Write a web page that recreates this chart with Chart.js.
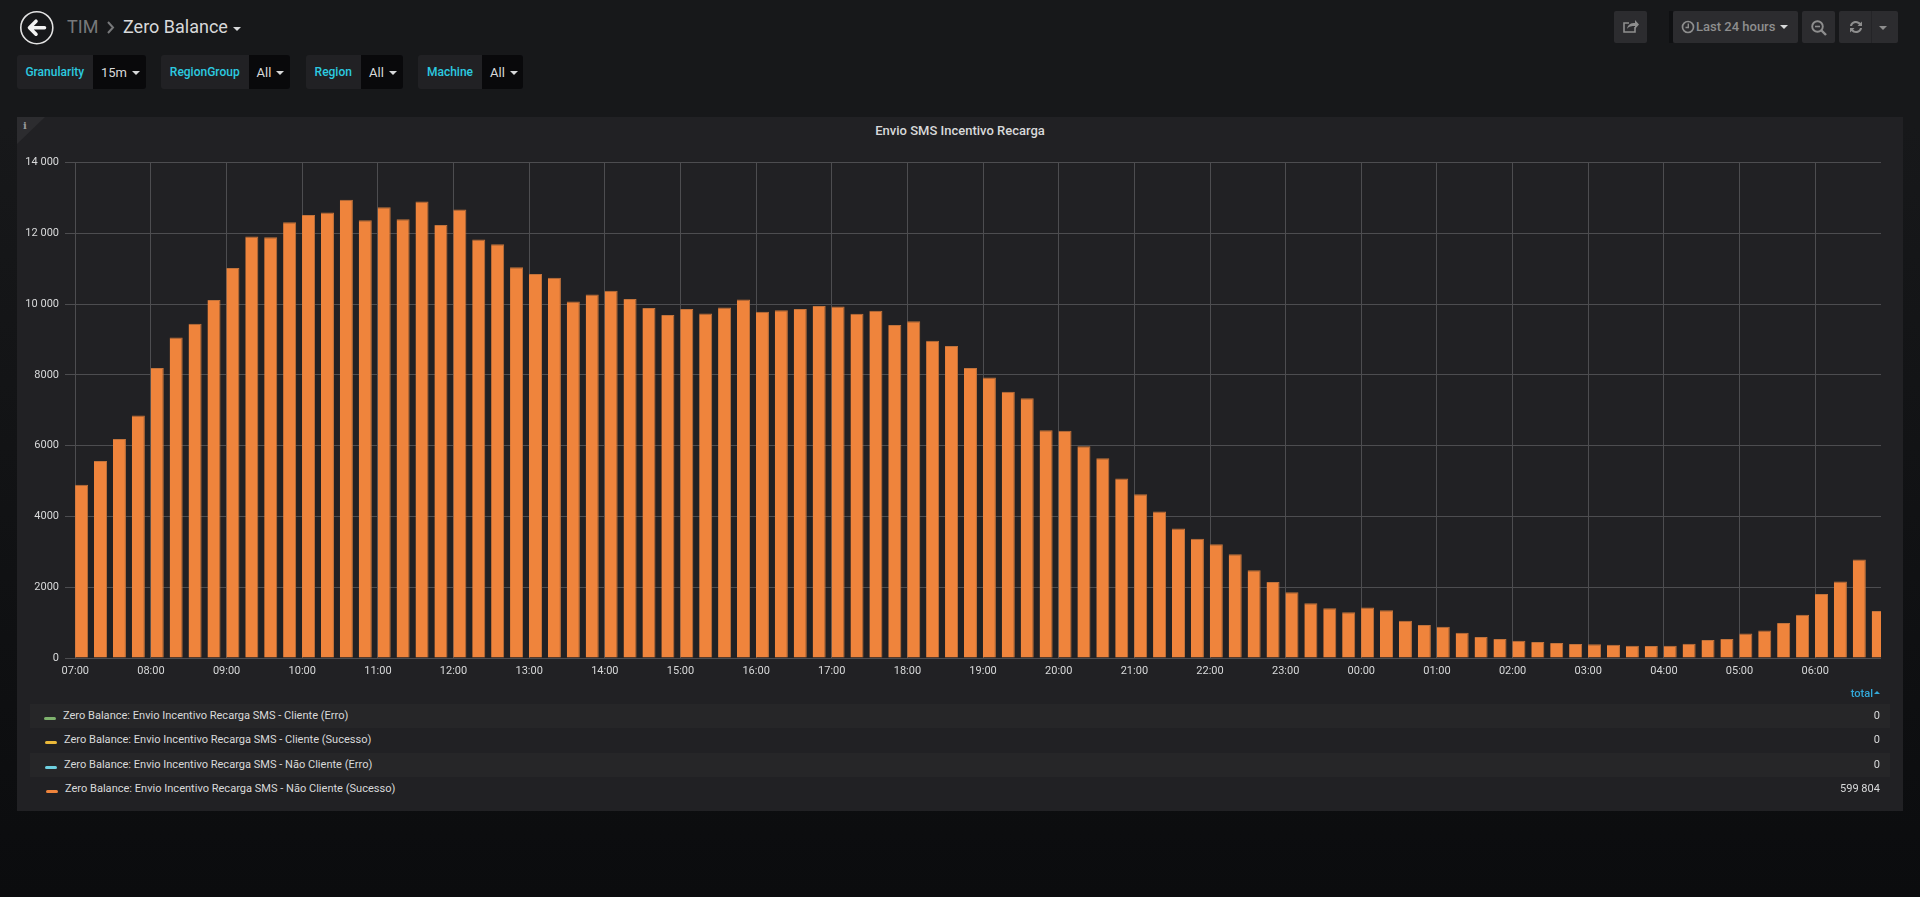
<!DOCTYPE html>
<html lang="pt">
<head>
<meta charset="utf-8">
<title>Zero Balance</title>
<script src="https://cdn.jsdelivr.net/npm/chart.js@4"></script>
<style>
html,body{margin:0;padding:0;width:1920px;height:897px;overflow:hidden;}
body{background:linear-gradient(180deg,#17181a 0,#17181a 14%,#0b0c0e 100%);font-family:Roboto,sans-serif;color:#d8d9da;position:relative;}
.abs{position:absolute;white-space:nowrap;}
.panel{position:absolute;left:17px;top:117px;width:1886px;height:694px;background:#212124;}
.corner{position:absolute;left:17px;top:117px;width:0;height:0;border-top:27px solid #2c2c2f;border-right:28px solid transparent;}
.title{left:17px;width:1886px;top:123px;text-align:center;font-size:13px;font-weight:500;color:#d8d9da;line-height:16px;}
.seg{position:absolute;top:55px;height:34px;box-sizing:border-box;line-height:34px;font-size:12px;}
.lab{background:#212124;color:#2ccbe0;font-weight:500;border-radius:3px 0 0 3px;text-align:center;}
.val{background:#09090b;color:#d8d9da;font-size:13px;border-radius:0 3px 3px 0;padding-left:8px;line-height:35px;}
.val::after,.caret::after{content:"";display:inline-block;margin-left:5px;vertical-align:2px;border-left:4px solid transparent;border-right:4px solid transparent;border-top:4px solid #d8d9da;}
.btn{position:absolute;top:11px;height:32px;background:#2c2c2f;border-radius:2px;color:#8e8e8e;font-size:13px;font-weight:500;line-height:32px;}
.row{position:absolute;left:30px;width:1860px;}
.row.alt{background:#262628;}
.swatch{position:absolute;width:12px;height:3px;border-radius:2px;}
.ltext{position:absolute;font-size:11.05px;color:#d8d9da;line-height:16px;white-space:nowrap;}
.ltot{position:absolute;right:40px;font-size:11.05px;color:#d8d9da;line-height:16px;}
canvas{position:absolute;left:17px;top:117px;}
</style>
</head>
<body>
<svg class="abs" style="left:19px;top:9px" width="36" height="38" viewBox="0 0 36 38">
  <circle cx="17.8" cy="18.7" r="16" fill="none" stroke="#e3e3e3" stroke-width="1.6"/>
  <path d="M10.5 18.7 L17 12.2 M10.5 18.7 L17 25.2 M11 18.7 H25.500" fill="none" stroke="#f2f2f2" stroke-width="3.6" stroke-linecap="round"/>
</svg>
<div class="abs" style="left:67px;top:16px;font-size:18px;color:#77787a;line-height:22px;">TIM</div>
<svg class="abs" style="left:106px;top:20px" width="10" height="16"><path d="M2 2 L7 7.5 L2 13" fill="none" stroke="#77787a" stroke-width="2"/></svg>
<div class="abs caret" style="left:123px;top:16px;font-size:18px;color:#d8d9da;line-height:22px;">Zero Balance</div>

<div class="seg lab" style="left:16.5px;width:76.5px;">Granularity</div><div class="seg val" style="left:93px;width:52.5px;">15m</div>
<div class="seg lab" style="left:161px;width:87.5px;">RegionGroup</div><div class="seg val" style="left:248.5px;width:41px;">All</div>
<div class="seg lab" style="left:305.5px;width:55.5px;">Region</div><div class="seg val" style="left:361px;width:41.500px;">All</div>
<div class="seg lab" style="left:418px;width:64px;">Machine</div><div class="seg val" style="left:482px;width:41px;">All</div>

<div class="btn" style="left:1614px;width:33px;">
  <svg style="position:absolute;left:8px;top:7px" width="18" height="18" viewBox="0 0 18 18"><path d="M13 9v5H2V5h5" fill="none" stroke="#8e8e8e" stroke-width="1.6"/><path d="M5 11c1-5 4-6 8-6V2l4 4.5L13 11V8c-3 0-6 0-8 3z" fill="#8e8e8e"/></svg>
</div>
<div class="abs" style="left:1669px;top:11px;width:4px;height:32px;background:#0f1012;"></div>
<div class="btn" style="left:1673px;width:125px;">
  <svg style="position:absolute;left:8px;top:9px" width="14" height="14" viewBox="0 0 14 14"><circle cx="7" cy="7" r="5.5" fill="none" stroke="#8e8e8e" stroke-width="1.7"/><path d="M7.3 3.5V7.5H4.5" fill="none" stroke="#8e8e8e" stroke-width="1.4"/></svg>
  <span class="caret" style="position:absolute;left:23px;top:0;">Last 24 hours</span>
</div>
<div class="btn" style="left:1802px;width:33px;">
  <svg style="position:absolute;left:8px;top:8px" width="18" height="18" viewBox="0 0 18 18"><circle cx="7.5" cy="7.5" r="5.3" fill="none" stroke="#8e8e8e" stroke-width="1.9"/><path d="M5 7.5h5" stroke="#8e8e8e" stroke-width="1.6"/><path d="M11.5 11.5L16 16" stroke="#8e8e8e" stroke-width="2.4"/></svg>
</div>
<div class="btn" style="left:1839px;width:59px;">
  <svg style="position:absolute;left:9px;top:8px" width="16" height="16" viewBox="0 0 16 16"><path d="M2 7C2.5 3.5 5 2 8 2c2 0 3.500 1 4.500 2L14 2.500V7H9.500l1.500-1.500C10 4.500 9 4 8 4 6 4 4.500 5 4 7z M14 9c-.5 3.500-3 5-6 5-2 0-3.500-1-4.500-2L2 13.500V9h4.500L5 10.500C6 11.500 7 12 8 12c2 0 3.500-1 4-3z" fill="#8e8e8e"/></svg>
  <div style="position:absolute;left:32px;top:0;width:1px;height:32px;background:#242427;"></div>
  <span style="position:absolute;left:40px;top:15px;border-left:4.500px solid transparent;border-right:4.500px solid transparent;border-top:4.500px solid #8e8e8e;"></span>
</div>

<div class="panel"></div>
<div class="corner"></div>
<div class="abs" style="left:23px;top:119px;font:bold 10px 'DejaVu Serif',serif;color:#9a9a9a;line-height:14px;">i</div>
<div class="abs title">Envio SMS Incentivo Recarga</div>
<canvas id="chart" width="1886" height="570"></canvas>

<div class="abs" style="right:40px;top:686px;font-size:11.05px;font-weight:500;color:#33a9d9;line-height:16px;">total<span style="display:inline-block;margin-left:1px;vertical-align:3px;border-left:3.500px solid transparent;border-right:3.500px solid transparent;border-bottom:3.500px solid #33a9d9;"></span></div>
<div id="legend"></div>

<script>
// --- Data ---
const hourLabels = ["07:00","08:00","09:00","10:00","11:00","12:00","13:00","14:00","15:00","16:00","17:00","18:00","19:00","20:00","21:00","22:00","23:00","00:00","01:00","02:00","03:00","04:00","05:00","06:00"];
const yTickLabels = ["0","2000","4000","6000","8000","10 000","12 000","14 000"];
const seriesNames = [
  "Zero Balance: Envio Incentivo Recarga SMS - Cliente (Erro)",
  "Zero Balance: Envio Incentivo Recarga SMS - Cliente (Sucesso)",
  "Zero Balance: Envio Incentivo Recarga SMS - Não Cliente (Erro)",
  "Zero Balance: Envio Incentivo Recarga SMS - Não Cliente (Sucesso)"
];
const seriesTotals = ["0","0","0","599 804"];
const seriesColors = ["#7EB26D","#EAB839","#6ED0E0","#EF843C"];
const clienteErro = [0,0,0,0,0,0,0,0,0,0,0,0,0,0,0,0,0,0,0,0,0,0,0,0,0,0,0,0,0,0,0,0,0,0,0,0,0,0,0,0,0,0,0,0,0,0,0,0,0,0,0,0,0,0,0,0,0,0,0,0,0,0,0,0,0,0,0,0,0,0,0,0,0,0,0,0,0,0,0,0,0,0,0,0,0,0,0,0,0,0,0,0,0,0,0,0];
const clienteSucesso = [0,0,0,0,0,0,0,0,0,0,0,0,0,0,0,0,0,0,0,0,0,0,0,0,0,0,0,0,0,0,0,0,0,0,0,0,0,0,0,0,0,0,0,0,0,0,0,0,0,0,0,0,0,0,0,0,0,0,0,0,0,0,0,0,0,0,0,0,0,0,0,0,0,0,0,0,0,0,0,0,0,0,0,0,0,0,0,0,0,0,0,0,0,0,0,0];
const naoClienteErro = [0,0,0,0,0,0,0,0,0,0,0,0,0,0,0,0,0,0,0,0,0,0,0,0,0,0,0,0,0,0,0,0,0,0,0,0,0,0,0,0,0,0,0,0,0,0,0,0,0,0,0,0,0,0,0,0,0,0,0,0,0,0,0,0,0,0,0,0,0,0,0,0,0,0,0,0,0,0,0,0,0,0,0,0,0,0,0,0,0,0,0,0,0,0,0,0];
const naoClienteSucesso = [
  4897,5565,6190,6852,8191,9059,9445,10115,11020,11907,
  11888,12312,12519,12586,12944,12369,12736,12397,12897,12237,
  12670,11822,11690,11039,10850,10742,10075,10272,10376,10141,
  9887,9690,9859,9737,9906,10131,9784,9822,9859,9944,
  9934,9728,9812,9408,9512,8967,8817,8197,7925,7521,
  7340,6432,6423,5981,5643,5071,4629,4141,3662,3371,
  3211,2930,2479,2150,1859,1549,1408,1296,1427,1352,
  1052,930,883,714,592,535,488,451,423,394,
  385,376,347,338,347,404,507,535,695,779,
  986,1221,1811,2162,2783,1325
];

// Bars span the first 10 of each 15 minutes, so each sits centred at slot start + 5 min.
const toPoints = vals => vals.map((v,i) => ({x:i*15+5, y:v}));
const allSeries = [clienteErro, clienteSucesso, naoClienteErro, naoClienteSucesso];

new Chart(document.getElementById("chart"), {
  type:"bar",
  data:{datasets: allSeries.map((vals,k)=>({
    label: seriesNames[k],
    data: toPoints(vals),
    stack:"s",
    backgroundColor: seriesColors[k],
    borderColor: k===3 ? "#c2733b" : seriesColors[k],
    borderWidth: k===3 ? {top:1,right:1,left:0,bottom:0} : 0,
    barPercentage: 0.69,
    categoryPercentage: 1,
    clip: 0
  }))},
  options:{
    responsive:false, animation:false, devicePixelRatio:1,
    layout:{padding:{left:0,right:22,top:45.5,bottom:0}},
    plugins:{legend:{display:false},title:{display:false},tooltip:{enabled:false}},
    scales:{
      x:{
        type:"linear", stacked:true, offset:false,
        min:-8.17, max:1432.2,
        afterFit:s=>{s.height=29;},
        afterBuildTicks:s=>{s.ticks=hourLabels.map((_,i)=>({value:i*60}));},
        border:{display:false},
        grid:{color:"#4d4d50",lineWidth:1,drawTicks:false,offset:false},
        ticks:{
          autoSkip:false, maxRotation:0, padding:7,
          color:"#d8d9da", font:{family:"Roboto",size:11},
          callback:v=>hourLabels[v/60]
        }
      },
      y:{
        stacked:true, min:0, max:14000,
        afterFit:s=>{s.width=48;},
        border:{display:false},
        grid:{color:"#4d4d50",lineWidth:1,drawTicks:false},
        ticks:{
          stepSize:2000, padding:6,
          color:"#d8d9da", font:{family:"Roboto",size:11},
          callback:v=>yTickLabels[v/2000]
        }
      }
    }
  }
});

// Legend table
const rowTops = [704,728,752.5,777];
const swatchLeft = [44,45,45,46];
const legend = document.getElementById("legend");
seriesNames.forEach((name,k)=>{
  const top = rowTops[k];
  legend.insertAdjacentHTML("beforeend",
    `<div class="row${k%2===0?' alt':''}" style="top:${top}px;height:24px"></div>`+
    `<div class="swatch" style="left:${swatchLeft[k]}px;top:${top+13}px;background:${seriesColors[k]}"></div>`+
    `<div class="ltext" style="left:${swatchLeft[k]+19}px;top:${top+4}px">${name}</div>`+
    `<div class="ltot" style="top:${top+4}px">${seriesTotals[k]}</div>`);
});
</script>
</body>
</html>
